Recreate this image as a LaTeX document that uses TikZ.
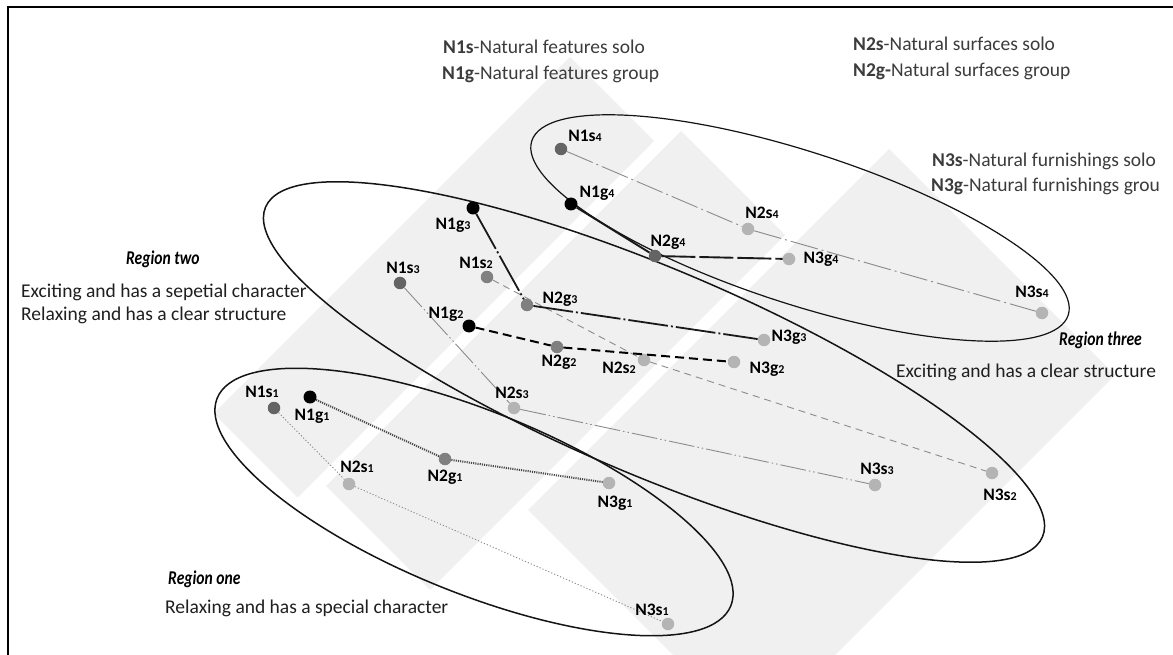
\documentclass[tikz,border=0pt]{standalone}
\usepackage{fontspec}
\setmainfont{Carlito}
\usepackage{graphicx}
\definecolor{tilegray}{RGB}{240,240,240}
\definecolor{dkdot}{RGB}{100,100,100}
\definecolor{mddot}{RGB}{128,128,128}
\definecolor{ltdot}{RGB}{180,180,180}
\definecolor{legtext}{RGB}{60,60,60}
\definecolor{sololine}{RGB}{140,140,140}
\newcommand\lab[2]{#1{\fontsize{12}{12}\selectfont #2}}
\begin{document}
\begin{tikzpicture}[x=1pt,y=-1pt,
  dotB/.style={circle,fill=black,minimum size=13pt,inner sep=0pt},
  dotD/.style={circle,fill=dkdot,minimum size=12.5pt,inner sep=0pt},
  dotM/.style={circle,fill=mddot,minimum size=12.5pt,inner sep=0pt},
  dotL/.style={circle,fill=ltdot,minimum size=12.5pt,inner sep=0pt},
  lbl/.style={anchor=base,inner sep=0pt,font=\fontsize{17.5}{17}\selectfont\bfseries},
  legend/.style={anchor=base west,inner sep=0pt,text=legtext,font=\fontsize{19.5}{20}\selectfont},
  body/.style={anchor=base west,inner sep=0pt,text=black!88,font=\fontsize{19.5}{20}\selectfont},
  regname/.style={anchor=base west,inner sep=0pt,font=\fontsize{19.5}{19}\selectfont\bfseries\itshape},
  regline/.style={draw=black!92,line width=1.5pt},
  soloone/.style={draw=sololine,line width=0.9pt,dash pattern=on 1.2pt off 2pt},
  groupone/.style={draw=black!72,line width=2pt,dash pattern=on 1.1pt off 1.1pt},
  solotwo/.style={draw=sololine,line width=0.9pt,dash pattern=on 7pt off 5pt},
  grouptwo/.style={draw=black,line width=2pt,dash pattern=on 9pt off 5pt},
  solothree/.style={draw=sololine,line width=0.9pt,dash pattern=on 26pt off 3pt on 1.5pt off 3pt on 1.5pt off 3pt},
  groupthree/.style={draw=black!90,line width=1.8pt,dash pattern=on 40pt off 3pt on 2pt off 3pt},
  solofour/.style={draw=sololine,line width=0.9pt,dash pattern=on 28pt off 4pt on 2pt off 4pt},
  groupfour/.style={draw=black!90,line width=1.9pt},
  groupfourb/.style={draw=black!90,line width=1.9pt,dash pattern=on 34pt off 4pt}
]
\useasboundingbox (0,0) rectangle (1173,655);
\clip (0,0) rectangle (1173,655);
\fill[white] (0,0) rectangle (1173,655);
% background tiles
\fill[tilegray] (570,57) -- (654,141) -- (297.5,497.5) -- (213.5,413.5) -- cycle;
\fill[tilegray] (681,131) -- (785,235) -- (430,590) -- (326,486) -- cycle;
\fill[tilegray] (889,149) -- (1115,375) -- (754,736) -- (528,510) -- cycle;
% frame
\draw[line width=2pt] (8,660) -- (8,7) -- (1180,7);
% region ellipses
\draw[regline,rotate around={-22:(474,502)}] (474,502) ellipse [x radius=277pt, y radius=91pt];
\draw[regline,rotate around={-23:(654,372)}] (654,372) ellipse [x radius=422pt, y radius=103pt];
\draw[regline,line width=1.2pt,rotate around={-18:(800,228)}] (800,228) ellipse [x radius=282pt, y radius=76pt];
% dots
\node[dotD] (n1s1) at (274,408) {};
\node[dotB] (n1g1) at (310,397) {};
\node[dotL] (n2s1) at (349,484) {};
\node[dotM] (n2g1) at (445,459) {};
\node[dotL] (n3g1) at (609,483) {};
\node[dotL] (n3s1) at (668,624) {};
\node[dotM] (n1s2) at (487,277) {};
\node[dotB] (n1g2) at (469,326) {};
\node[dotM] (n2g2) at (557,347) {};
\node[dotL] (n2s2) at (644,360) {};
\node[dotL] (n3g2) at (734,362) {};
\node[dotL] (n3s2) at (992,473) {};
\node[dotD] (n1s3) at (400,283) {};
\node[dotB] (n1g3) at (473,208) {};
\node[dotM] (n2g3) at (527,305) {};
\node[dotL] (n2s3) at (514,408) {};
\node[dotL] (n3g3) at (764,340) {};
\node[dotL] (n3s3) at (875,485) {};
\node[dotD] (n1s4) at (561,149) {};
\node[dotB] (n1g4) at (571,204) {};
\node[dotL] (n2s4) at (748,229) {};
\node[dotD] (n2g4) at (655,256) {};
\node[dotL] (n3g4) at (789,259) {};
\node[dotL] (n3s4) at (1042,313) {};
% connectors
\draw[soloone] (n1s1) -- (n2s1);
\draw[soloone] (n2s1) -- (n3s1);
\draw[groupone] (n1g1) -- (n2g1);
\draw[groupone] (n2g1) -- (n3g1);
\draw[solotwo] (n1s2) -- (n2s2);
\draw[solotwo] (n2s2) -- (n3s2);
\draw[grouptwo] (n1g2) -- (n2g2);
\draw[grouptwo] (n2g2) -- (n3g2);
\draw[solothree] (n1s3) -- (n2s3);
\draw[solothree] (n2s3) -- (n3s3);
\draw[groupthree] (n1g3) -- (n2g3);
\draw[groupthree] (n2g3) -- (n3g3);
\draw[solofour] (n1s4) -- (n2s4);
\draw[solofour] (n2s4) -- (n3s4);
\draw[groupfour] (n1g4) -- (n2g4);
\draw[groupfourb] (n2g4) -- (n3g4);
% node labels
\node[lbl] (ln1s1) at (262,397) {\lab{N1s}{1}};
\node[lbl] (ln1g1) at (312,420) {\lab{N1g}{1}};
\node[lbl] (ln2s1) at (357,472) {\lab{N2s}{1}};
\node[lbl] (ln2g1) at (445,481) {\lab{N2g}{1}};
\node[lbl] (ln3g1) at (615,507) {\lab{N3g}{1}};
\node[lbl] (ln3s1) at (652,615) {\lab{N3s}{1}};
\node[lbl] (ln1s2) at (476,269) {\lab{N1s}{2}};
\node[lbl] (ln1g2) at (446,318) {\lab{N1g}{2}};
\node[lbl] (ln2g2) at (559,366) {\lab{N2g}{2}};
\node[lbl] (ln2s2) at (619,373) {\lab{N2s}{2}};
\node[lbl] (ln3g2) at (767,373) {\lab{N3g}{2}};
\node[lbl] (ln3s2) at (1000,500) {\lab{N3s}{2}};
\node[lbl] (ln1s3) at (403,273) {\lab{N1s}{3}};
\node[lbl] (ln1g3) at (453,230) {\lab{N1g}{3}};
\node[lbl] (ln2g3) at (560,303) {\lab{N2g}{3}};
\node[lbl] (ln2s3) at (512,398) {\lab{N2s}{3}};
\node[lbl] (ln3g3) at (789,341) {\lab{N3g}{3}};
\node[lbl] (ln3s3) at (877,474) {\lab{N3s}{3}};
\node[lbl] (ln1s4) at (585,142) {\lab{N1s}{4}};
\node[lbl] (ln1g4) at (597,198) {\lab{N1g}{4}};
\node[lbl] (ln2s4) at (762,219) {\lab{N2s}{4}};
\node[lbl] (ln2g4) at (668,247) {\lab{N2g}{4}};
\node[lbl] (ln3g4) at (821,264) {\lab{N3g}{4}};
\node[lbl] (ln3s4) at (1032,297) {\lab{N3s}{4}};
% legend
\node[legend] (leg1s) at (443,54) {\textbf{N1s}-Natural features solo};
\node[legend] (leg1g) at (442,80) {\textbf{N1g}-Natural features group};
\node[legend] (leg2s) at (853,51) {\textbf{N2s}-Natural surfaces solo};
\node[legend] (leg2g) at (853,77) {\textbf{N2g-}Natural surfaces group};
\node[legend] (leg3s) at (932,167) {\textbf{N3s}-Natural furnishings solo};
\node[legend] (leg3g) at (931,192) {\textbf{N3g}-Natural furnishings grou};
% region texts
\node[regname] (rtwo) at (126,265) {\scalebox{0.8}[1]{Region two}};
\node[body] (rtwoa) at (21,297) {Exciting and has a sepetial character};
\node[body] (rtwob) at (21,320) {Relaxing and has a clear structure};
\node[regname] (rone) at (168,584) {\scalebox{0.8}[1]{Region one}};
\node[body] (ronea) at (165,613) {Relaxing and has a special character};
\node[regname] (rthree) at (1059,345) {\scalebox{0.8}[1]{Region three}};
\node[body] (rthreea) at (896,377) {Exciting and has a clear structure};
\end{tikzpicture}
\end{document}
